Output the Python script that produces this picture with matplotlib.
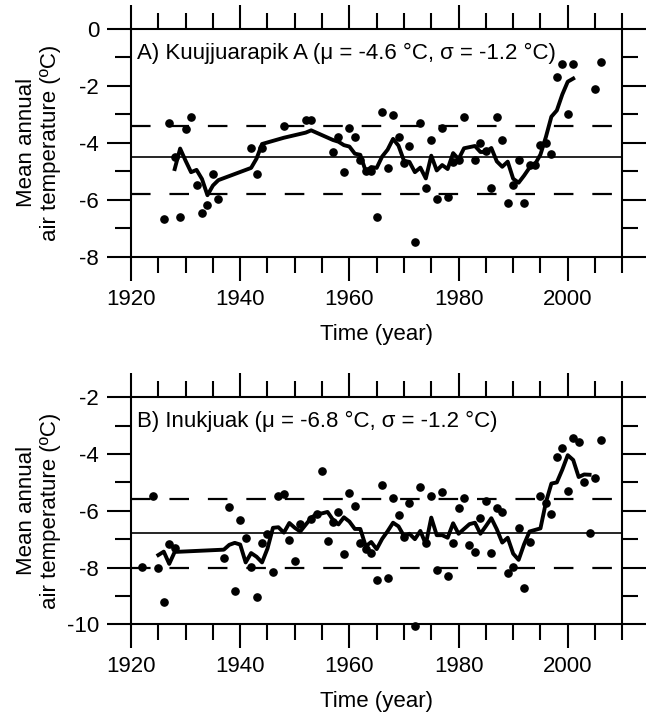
"""
Mean annual air temperature at Kuujjuarapik A and Inukjuak
"""

#---------------------------------------------------------------------------------------------------
# Import Modules
#---------------------------------------------------------------------------------------------------

import matplotlib
matplotlib.use('Agg')
import matplotlib.pyplot as plt
import matplotlib.ticker as mticker


#---------------------------------------------------------------------------------------------------
# Input Parameters
#---------------------------------------------------------------------------------------------------

# Kuujjuarapik A: annual means
kuu_years = [1926, 1927, 1928, 1929, 1930, 1931, 1932, 1933, 1934, 1935, 1936,
             1942, 1943, 1944, 1948, 1952, 1953, 1957, 1958, 1959, 1960, 1961,
             1962, 1963, 1964, 1965, 1966, 1967, 1968, 1969, 1970, 1971, 1972,
             1973, 1974, 1975, 1976, 1977, 1978, 1979, 1980, 1981, 1983, 1984,
             1985, 1986, 1987, 1988, 1989, 1990, 1991, 1992, 1993, 1994, 1995,
             1996, 1997, 1998, 1999, 2000, 2001, 2005, 2006]
kuu_temp = [-6.69, -3.31, -4.49, -6.60, -3.50, -3.10, -5.48, -6.48, -6.18, -5.10, -5.98,
            -4.19, -5.10, -4.19, -3.40, -3.20, -3.20, -4.31, -3.80, -5.01, -3.49, -3.80,
            -4.60, -5.00, -5.00, -6.59, -2.90, -4.90, -3.02, -3.80, -4.70, -4.10, -7.47,
            -3.30, -5.60, -3.90, -5.98, -3.49, -5.89, -4.66, -4.60, -3.10, -4.60, -3.99,
            -4.30, -5.60, -3.10, -3.90, -6.10, -5.48, -4.60, -6.10, -4.78, -4.78, -4.08,
            -4.00, -4.39, -1.70, -1.23, -3.00, -1.23, -2.11, -1.15]

# Kuujjuarapik A: smoothed curve
kuu_smooth_years = [1928, 1929, 1930, 1931, 1932, 1933, 1934, 1935, 1936, 1942, 1943,
                    1944, 1948, 1952, 1953, 1957, 1958, 1959, 1960, 1961, 1962, 1963,
                    1964, 1965, 1966, 1967, 1968, 1969, 1970, 1971, 1972, 1973, 1974,
                    1975, 1976, 1977, 1978, 1979, 1980, 1981, 1983, 1984, 1985, 1986,
                    1987, 1988, 1989, 1990, 1991, 1992, 1993, 1994, 1995, 1996, 1997,
                    1998, 1999, 2000, 2001]
kuu_smooth = [-4.92, -4.20, -4.63, -5.03, -4.95, -5.27, -5.84, -5.50, -5.31, -4.88, -4.55,
              -4.04, -3.82, -3.64, -3.56, -3.90, -3.96, -4.08, -4.13, -4.38, -4.42, -5.00,
              -4.85, -4.88, -4.48, -4.24, -3.86, -4.10, -4.63, -4.67, -5.03, -4.87, -5.25,
              -4.45, -4.97, -4.78, -4.92, -4.36, -4.57, -4.19, -4.11, -4.32, -4.32, -4.18,
              -4.65, -4.84, -4.66, -5.26, -5.40, -5.15, -4.87, -4.75, -4.41, -3.79, -3.08,
              -2.86, -2.30, -1.85, -1.74]

# Inukjuak: annual means
inu_years = [1922, 1924, 1925, 1926, 1927, 1928, 1937, 1938, 1939, 1940, 1941,
             1942, 1943, 1944, 1945, 1946, 1947, 1948, 1949, 1950, 1951, 1953,
             1954, 1955, 1956, 1957, 1958, 1959, 1960, 1961, 1962, 1963, 1964,
             1965, 1966, 1967, 1968, 1969, 1970, 1971, 1972, 1973, 1974, 1975,
             1976, 1977, 1978, 1979, 1980, 1981, 1982, 1983, 1984, 1985, 1986,
             1987, 1988, 1989, 1990, 1991, 1992, 1993, 1995, 1996, 1997, 1998,
             1999, 2000, 2001, 2002, 2003, 2004, 2005, 2006]
inu_temp = [-7.97, -5.47, -8.03, -9.22, -7.17, -7.32, -7.68, -5.85, -8.83, -6.32, -6.97,
            -7.97, -9.03, -7.15, -6.82, -8.15, -5.48, -5.42, -7.03, -7.76, -6.47, -6.30,
            -6.11, -4.59, -7.06, -6.38, -6.05, -7.52, -5.38, -5.82, -7.12, -7.36, -7.50,
            -8.44, -5.09, -8.38, -5.56, -6.15, -6.93, -5.74, -10.05, -5.17, -7.12, -5.48,
            -8.09, -5.33, -8.30, -7.12, -5.89, -5.54, -7.20, -7.44, -6.27, -5.64, -7.48,
            -5.89, -6.03, -8.20, -7.99, -6.62, -8.73, -7.09, -5.48, -5.71, -6.11, -4.09,
            -3.80, -5.29, -3.45, -3.56, -4.97, -6.77, -4.86, -3.50]

# Inukjuak: smoothed curve
inu_smooth_years = [1925, 1926, 1927, 1928, 1937, 1938, 1939, 1940, 1941, 1942, 1943,
                    1944, 1945, 1946, 1947, 1948, 1949, 1950, 1951, 1953, 1954, 1955,
                    1956, 1957, 1958, 1959, 1960, 1961, 1962, 1963, 1964, 1965, 1966,
                    1967, 1968, 1969, 1970, 1971, 1972, 1973, 1974, 1975, 1976, 1977,
                    1978, 1979, 1980, 1981, 1982, 1983, 1984, 1985, 1986, 1987, 1988,
                    1989, 1990, 1991, 1992, 1993, 1995, 1996, 1997, 1998, 1999, 2000,
                    2001, 2002, 2003, 2004]
inu_smooth = [-7.56, -7.44, -7.87, -7.45, -7.37, -7.20, -7.13, -7.19, -7.82, -7.49, -7.62,
              -7.82, -7.33, -6.60, -6.58, -6.77, -6.43, -6.60, -6.73, -6.25, -6.11, -6.09,
              -6.04, -6.32, -6.48, -6.23, -6.38, -6.64, -6.64, -7.25, -7.10, -7.35, -6.99,
              -6.72, -6.42, -6.55, -6.89, -6.81, -7.00, -6.71, -7.18, -6.24, -6.86, -6.86,
              -6.95, -6.44, -6.81, -6.64, -6.47, -6.42, -6.81, -6.54, -6.26, -6.65, -7.12,
              -6.95, -7.51, -7.73, -7.18, -6.73, -6.62, -5.70, -5.04, -5.00, -4.55, -4.04,
              -4.21, -4.81, -4.72, -4.73]

# Reference lines: mean, upper and lower band
kuu_lines = [-4.5, -3.4, -5.8]
inu_lines = [-6.8, -5.6, -8.0]

# Panel labels
kuu_label = 'A) Kuujjuarapik A (\u03bc = -4.6 \u00b0C, \u03c3 = -1.2 \u00b0C)'
inu_label = 'B) Inukjuak (\u03bc = -6.8 \u00b0C, \u03c3 = -1.2 \u00b0C)'

# Axis limits
kuu_ylim = [-8, 0]
inu_ylim = [-10, -2]
xlim = [1920, 2010]


#---------------------------------------------------------------------------------------------------
# Main Program
#---------------------------------------------------------------------------------------------------

plt.rcParams['font.family'] = ['Liberation Sans', 'DejaVu Sans']
plt.rcParams['axes.unicode_minus'] = False
fontsize = 16

fig = plt.figure(figsize=(6.47, 7.17), dpi=100)
ax_top = fig.add_axes([0.2025, 0.642, 0.7594, 0.3175])
ax_bot = fig.add_axes([0.2025, 0.1293, 0.7594, 0.3166])

panels = [(ax_top, kuu_years, kuu_temp, kuu_smooth_years, kuu_smooth, kuu_lines, kuu_label, kuu_ylim),
          (ax_bot, inu_years, inu_temp, inu_smooth_years, inu_smooth, inu_lines, inu_label, inu_ylim)]

for ax, yrs, temp, syrs, smooth, hlines, label, ylim in panels:

    # Mean and +/- sigma lines
    ax.axhline(hlines[0], color='k', lw=1.2, zorder=1)
    for h in hlines[1:]:
        ax.axhline(h, color='k', lw=1.6, ls=(0, (8.8, 8.5)), zorder=1)

    # Annual values and smoothed curve
    ax.plot(yrs, temp, 'o', color='k', ms=5.2, mec='k', zorder=2, clip_on=False)
    ax.plot(syrs, smooth, '-', color='k', lw=2.8, zorder=3)

    # Panel label
    ax.text(0.013, 0.895, label, transform=ax.transAxes, size=fontsize, va='center', ha='left')

    # Axes limits and ticks
    ax.set_xlim(xlim)
    ax.set_ylim(ylim)
    ax.xaxis.set_major_locator(mticker.MultipleLocator(20))
    ax.xaxis.set_minor_locator(mticker.MultipleLocator(5))
    ax.yaxis.set_major_locator(mticker.MultipleLocator(2))
    ax.yaxis.set_minor_locator(mticker.MultipleLocator(1))
    ax.tick_params(which='both', direction='out', top=True, right=True, width=1.5,
                   labelsize=fontsize, color='k')
    ax.tick_params(which='major', length=17, pad=6)
    ax.tick_params(which='minor', length=11.5)
    for side in ['left', 'right', 'top', 'bottom']:
        ax.spines[side].set_linewidth(1.5)

    ax.set_xlabel('Time (year)', size=fontsize, labelpad=10)
    ax.set_ylabel('Mean annual\nair temperature (\u00baC)', size=fontsize)
    ax.yaxis.set_label_coords(-0.142, 0.5)

plt.savefig('out.png', dpi=100)
plt.close()
